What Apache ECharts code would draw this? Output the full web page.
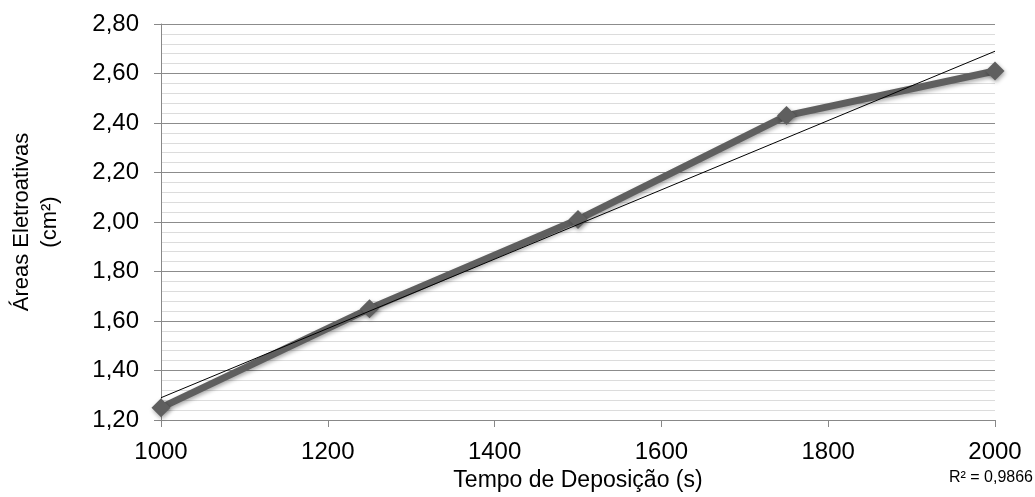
<!DOCTYPE html>
<html>
<head>
<meta charset="utf-8">
<script src="https://cdn.jsdelivr.net/npm/echarts@6/dist/echarts.min.js"></script>
<style>
  html, body { margin: 0; padding: 0; background: #fff; }
  #chart { width: 1035px; height: 497px; }
</style>
</head>
<body>
<div id="chart"></div>
<script>
// Deposition time (s) and electroactive area (cm²)
const depositionTimes = [1000, 1250, 1500, 1750, 2000];
const electroAreas = [1.25, 1.65, 2.01, 2.43, 2.61];
const rSquaredLabel = 'R² = 0,9866';

// Least-squares linear trendline over the measured points
function linearFit(xs, ys) {
  const n = xs.length;
  const mx = xs.reduce((a, b) => a + b, 0) / n;
  const my = ys.reduce((a, b) => a + b, 0) / n;
  let sxy = 0, sxx = 0;
  for (let i = 0; i < n; i++) {
    sxy += (xs[i] - mx) * (ys[i] - my);
    sxx += (xs[i] - mx) * (xs[i] - mx);
  }
  const slope = sxy / sxx;
  return { slope, intercept: my - slope * mx };
}
const fit = linearFit(depositionTimes, electroAreas);
const xMin = depositionTimes[0], xMax = depositionTimes[depositionTimes.length - 1];
const trendPoints = [
  [xMin, fit.intercept + fit.slope * xMin],
  [xMax, fit.intercept + fit.slope * xMax]
];

const fmtComma = v => v.toFixed(2).replace('.', ',');
const FONT = '"Liberation Sans", Arial, sans-serif';

const chart = echarts.init(document.getElementById('chart'), null, { renderer: 'canvas' });
chart.setOption({
  animation: false,
  backgroundColor: '#ffffff',
  grid: { left: 160, right: 40, top: 24, bottom: 72, containLabel: false },
  xAxis: {
    type: 'value',
    min: 1000, max: 2000, interval: 200,
    name: 'Tempo de Deposição (s)',
    nameLocation: 'middle',
    nameGap: 49,
    nameTextStyle: { fontFamily: FONT, fontSize: 23, color: '#000' },
    axisLine: { show: true, lineStyle: { color: '#888', width: 1 } },
    axisTick: { show: true, inside: false, length: 7, lineStyle: { color: '#888' } },
    axisLabel: { fontFamily: FONT, fontSize: 24, color: '#000', margin: 20, formatter: v => String(v) },
    splitLine: { show: false }
  },
  yAxis: {
    type: 'value',
    min: 1.2, max: 2.8, interval: 0.2,
    name: 'Áreas Eletroativas\n(cm²)',
    nameLocation: 'middle',
    nameRotate: 90,
    nameGap: 97,
    nameTextStyle: { fontFamily: FONT, fontSize: 22, color: '#000', lineHeight: 28 },
    axisLine: { show: true, lineStyle: { color: '#888', width: 1 } },
    axisTick: { show: true, inside: false, length: 7, lineStyle: { color: '#888' } },
    axisLabel: { fontFamily: FONT, fontSize: 24, color: '#000', margin: 22, formatter: fmtComma },
    splitLine: { show: true, lineStyle: { color: '#8c8c8c', width: 1 } },
    minorTick: { show: false, splitNumber: 5 },
    minorSplitLine: { show: true, lineStyle: { color: '#dcdcdc', width: 1 } }
  },
  series: [
    {
      name: 'Áreas',
      type: 'line',
      data: depositionTimes.map((x, i) => [x, electroAreas[i]]),
      symbol: 'diamond',
      symbolSize: 19,
      z: 2,
      lineStyle: {
        color: '#5f5f5f', width: 7,
        shadowColor: 'rgba(0,0,0,0.35)', shadowBlur: 4, shadowOffsetX: 1, shadowOffsetY: 2
      },
      itemStyle: {
        color: '#5f5f5f', borderWidth: 0,
        shadowColor: 'rgba(0,0,0,0.35)', shadowBlur: 4, shadowOffsetX: 1, shadowOffsetY: 2
      }
    },
    {
      name: 'Linear',
      type: 'line',
      data: trendPoints,
      symbol: 'none',
      z: 3,
      lineStyle: { color: '#000', width: 1 }
    }
  ],
  graphic: [
    {
      type: 'text',
      right: 2,
      top: 470,
      style: { text: rSquaredLabel, fontFamily: FONT, fontSize: 16, fill: '#000' }
    }
  ]
});
</script>
</body>
</html>
